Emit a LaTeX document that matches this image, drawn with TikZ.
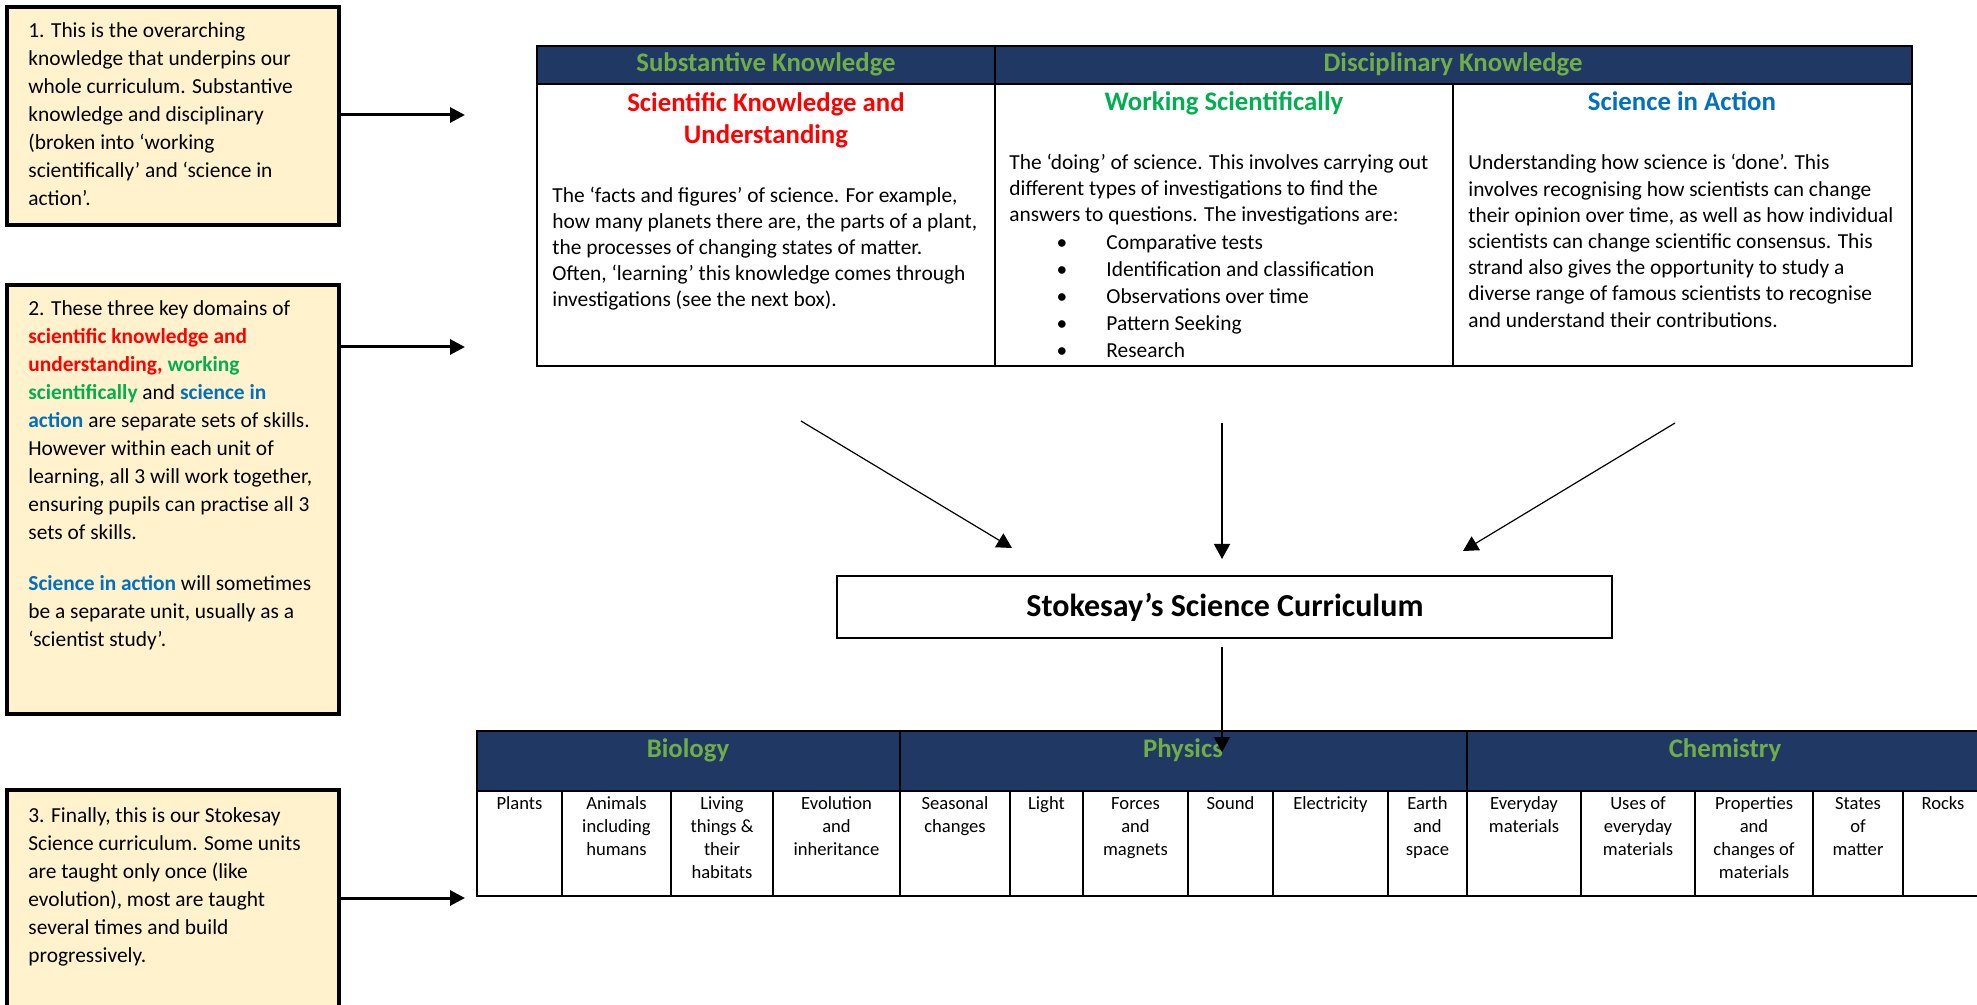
\documentclass[tikz,border=0pt]{standalone}
\usepackage{fontspec}
\setmainfont{Carlito}
\usetikzlibrary{positioning, calc, fit, arrows.meta}
\definecolor{navy}{HTML}{203864}
\definecolor{hdrgreen}{HTML}{70AD47}
\definecolor{skured}{HTML}{FF0000}
\definecolor{wsgreen}{HTML}{00B050}
\definecolor{siablue}{HTML}{0070C0}
\definecolor{notefill}{HTML}{FFF2CC}
\newcommand{\txtrows}[2]{\begin{tabular}[t]{@{}#1@{}}#2\end{tabular}}

\begin{document}
\begin{tikzpicture}[x=0.5pt, y=-0.5pt,
    note/.style={draw, line width=2pt, fill=notefill, inner sep=0pt},
    notetxt/.style={anchor=base west, inner sep=0pt, font=\fontsize{10.7}{14}\selectfont},
    hdr/.style={draw, line width=1pt, fill=navy, inner sep=0pt},
    hdrtxt/.style={anchor=base, inner sep=0pt, text=hdrgreen, font=\fontsize{13.4}{16}\selectfont\bfseries},
    cell/.style={draw, line width=1pt, inner sep=0pt},
    unitcell/.style={draw, line width=1.4pt, inner sep=0pt},
    body/.style={anchor=base west, inner sep=0pt, font=\fontsize{10.7}{13}\selectfont},
    ttl/.style={anchor=base, inner sep=0pt, font=\fontsize{13.4}{16}\selectfont\bfseries},
    unit/.style={anchor=base, inner sep=0pt, font=\fontsize{9.3}{11.5}\selectfont},
    fat/.style={line width=1.5pt, -{Triangle[length=7.5pt, width=7.5pt]}},
    link/.style={line width=0.6pt, -{Triangle[length=7.5pt, width=8pt]}}]
    \useasboundingbox (0,0) rectangle (1977,1005);

    \node[note, fit={(7,7)(339,225)}] (note1) {};
    \node[notetxt] (note1txt) at (28,38) {\txtrows{l}{1. This is the overarching\\knowledge that underpins our\\whole curriculum. Substantive\\knowledge and disciplinary\\(broken into ‘working\\scientifically’ and ‘science in\\action’.}};
    \node[note, fit={(7,285)(339,714)}] (note2) {};
    \node[notetxt] (note2txt) at (28,316) {\txtrows{l}{2. These three key domains of\\
        \textcolor{skured}{\textbf{scientific knowledge and}}\\
        \textcolor{skured}{\textbf{understanding,}} \textcolor{wsgreen}{\textbf{working}}\\
        \textcolor{wsgreen}{\textbf{scientifically}} and \textcolor{siablue}{\textbf{science in}}\\
        \textcolor{siablue}{\textbf{action}} are separate sets of skills.\\
        However within each unit of\\
        learning, all 3 will work together,\\
        ensuring pupils can practise all 3\\
        sets of skills.\\[11.5pt]
        \textcolor{siablue}{\textbf{Science in action}} will sometimes\\
        be a separate unit, usually as a\\
        ‘scientist study’.}};
    \node[note, fit={(7,790)(339,1030)}] (note3) {};
    \node[notetxt] (note3txt) at (28,822) {\txtrows{l}{3. Finally, this is our Stokesay\\Science curriculum. Some units\\are taught only once (like\\evolution), most are taught\\several times and build\\progressively.}};

    \coordinate (tip1) at (465,115);
    \coordinate (tip2) at (465,347);
    \coordinate (tip3) at (465,898);
    \draw[fat] (note1.east |- tip1) -- (tip1);
    \draw[fat] (note2.east |- tip2) -- (tip2);
    \draw[fat] (note3.east |- tip3) -- (tip3);

    \node[hdr, fit={(537,46)(995,84)}] (subst) {};
    \node[hdr, fit={(995,46)(1912,84)}] (discip) {};
    \node[hdrtxt] (substT) at (766,72) {Substantive Knowledge};
    \node[hdrtxt] (discipT) at (1453,72) {Disciplinary Knowledge};
    \node[cell, fit={(537,84)(995,366)}] (sku) {};
    \node[cell, fit={(995,84)(1453,366)}] (ws) {};
    \node[cell, fit={(1453,84)(1912,366)}] (sia) {};
    \node[ttl, text=skured] (skuT) at (766,112) {\txtrows{c}{Scientific Knowledge and\\Understanding}};
    \node[ttl, text=wsgreen] (wsT) at (1224,111) {Working Scientifically};
    \node[ttl, text=siablue] (siaT) at (1682,111) {Science in Action};
    \node[body] (skuB) at (552,203) {\txtrows{l}{The ‘facts and figures’ of science. For example,\\how many planets there are, the parts of a plant,\\the processes of changing states of matter.\\Often, ‘learning’ this knowledge comes through\\investigations (see the next box).}};
    \node[body] (wsB) at (1009,170) {\txtrows{l}{The ‘doing’ of science. This involves carrying out\\different types of investigations to find the\\answers to questions. The investigations are:}};
    \node[body, anchor=base, font=\fontsize{10.7}{13.5}\selectfont] (wsDots) at (1062,250) {\txtrows{c}{\textbullet\\\textbullet\\\textbullet\\\textbullet\\\textbullet}};
    \node[body, font=\fontsize{10.7}{13.5}\selectfont] (wsList) at (1106,250) {\txtrows{l}{Comparative tests\\Identification and classification\\Observations over time\\Pattern Seeking\\Research}};
    \node[body, font=\fontsize{10.7}{13.1}\selectfont] (siaB) at (1468,170) {\txtrows{l}{Understanding how science is ‘done’. This\\involves recognising how scientists can change\\their opinion over time, as well as how individual\\scientists can change scientific consensus. This\\strand also gives the opportunity to study a\\diverse range of famous scientists to recognise\\and understand their contributions.}};

    \coordinate (skuFoot) at (801,421);
    \coordinate (skuTip) at (1012,548);
    \coordinate (wsFoot) at (1222,423);
    \coordinate (wsTip) at (1222,559);
    \coordinate (siaFoot) at (1675,423);
    \coordinate (siaTip) at (1463,551);
    \draw[link] (skuFoot) -- (skuTip);
    \draw[link] (wsFoot) -- (wsTip);
    \draw[link] (siaFoot) -- (siaTip);

    \node[cell, fit={(837,576)(1612,638)}] (curr) {};
    \node[anchor=base, inner sep=0pt, font=\fontsize{16}{19}\selectfont\bfseries] (currT) at (1225,617) {Stokesay’s Science Curriculum};

    \node[hdr, line width=1.4pt, fit={(477,731)(900,791)}] (bio) {};
    \node[hdr, line width=1.4pt, fit={(900,731)(1467,791)}] (phys) {};
    \node[hdr, line width=1.4pt, fit={(1467,731)(1983,791)}] (chem) {};
    \node[hdrtxt] (bioT) at (688,757) {Biology};
    \node[hdrtxt] (physT) at (1183,757) {Physics};
    \node[hdrtxt] (chemT) at (1725,757) {Chemistry};

    \node[unitcell, fit={(477,791)(562,896)}] (plants) {};
    \node[unitcell, fit={(562,791)(671,896)}] (animals) {};
    \node[unitcell, fit={(671,791)(773,896)}] (living) {};
    \node[unitcell, fit={(773,791)(900,896)}] (evol) {};
    \node[unitcell, fit={(900,791)(1010,896)}] (seasons) {};
    \node[unitcell, fit={(1010,791)(1083,896)}] (light) {};
    \node[unitcell, fit={(1083,791)(1188,896)}] (forces) {};
    \node[unitcell, fit={(1188,791)(1273,896)}] (sound) {};
    \node[unitcell, fit={(1273,791)(1388,896)}] (elec) {};
    \node[unitcell, fit={(1388,791)(1467,896)}] (earth) {};
    \node[unitcell, fit={(1467,791)(1581,896)}] (everyday) {};
    \node[unitcell, fit={(1581,791)(1695,896)}] (uses) {};
    \node[unitcell, fit={(1695,791)(1813,896)}] (props) {};
    \node[unitcell, fit={(1813,791)(1903,896)}] (states) {};
    \node[unitcell, fit={(1903,791)(1983,896)}] (rocks) {};
    \node[unit] (plantsT) at (519.5,809) {Plants};
    \node[unit] (animalsT) at (616.5,809) {\txtrows{c}{Animals\\including\\humans}};
    \node[unit] (livingT) at (722,809) {\txtrows{c}{Living\\things \&\\their\\habitats}};
    \node[unit] (evolT) at (836.5,809) {\txtrows{c}{Evolution\\and\\inheritance}};
    \node[unit] (seasonsT) at (955,809) {\txtrows{c}{Seasonal\\changes}};
    \node[unit] (lightT) at (1046.5,809) {Light};
    \node[unit] (forcesT) at (1135.5,809) {\txtrows{c}{Forces\\and\\magnets}};
    \node[unit] (soundT) at (1230.5,809) {Sound};
    \node[unit] (elecT) at (1330.5,809) {Electricity};
    \node[unit] (earthT) at (1427.5,809) {\txtrows{c}{Earth\\and\\space}};
    \node[unit] (everydayT) at (1524,809) {\txtrows{c}{Everyday\\materials}};
    \node[unit] (usesT) at (1638,809) {\txtrows{c}{Uses of\\everyday\\materials}};
    \node[unit] (propsT) at (1754,809) {\txtrows{c}{Properties\\and\\changes of\\materials}};
    \node[unit] (statesT) at (1858,809) {\txtrows{c}{States\\of\\matter}};
    \node[unit] (rocksT) at (1943,809) {Rocks};

    \coordinate (currFoot) at (1222,647);
    \coordinate (physTip) at (1222,752);
    \draw[link] (currFoot) -- (physTip);
\end{tikzpicture}
\end{document}
